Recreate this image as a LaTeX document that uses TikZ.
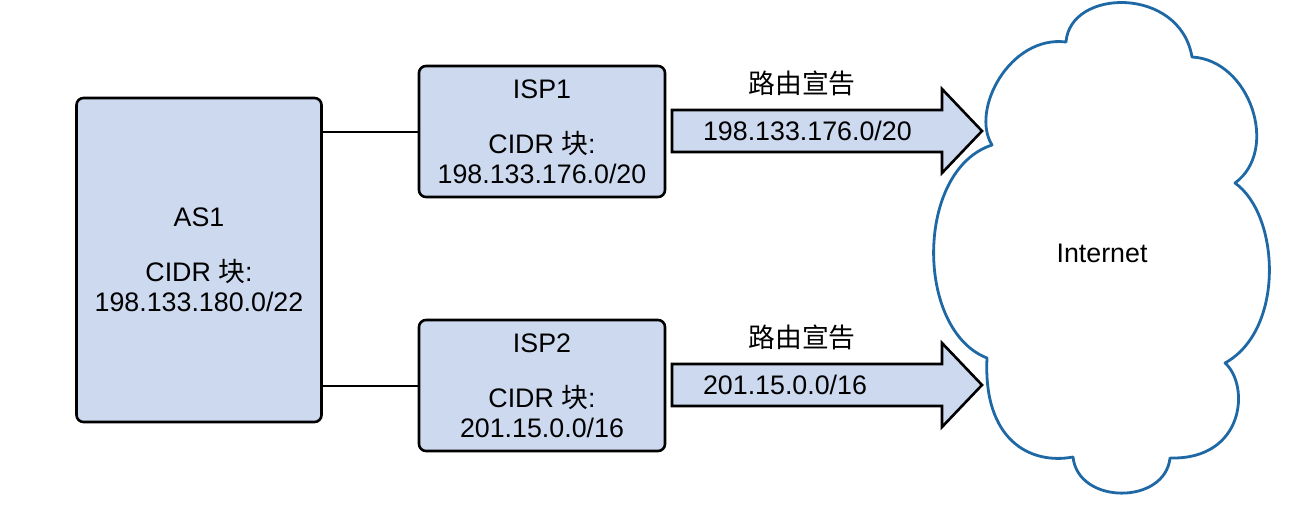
\documentclass[tikz,border=0pt]{standalone}
\usepackage{fontspec}
\setmainfont{Liberation Sans}
\newfontfamily\cjk{Noto Sans CJK SC}
\usetikzlibrary{positioning,calc}
\definecolor{boxfill}{RGB}{205,217,238}
\definecolor{cloudblue}{RGB}{30,105,165}
\tikzset{
  netbox/.style={draw=black, line width=1.3pt, rounded corners=3.5pt, fill=boxfill, align=center},
  link/.style={line width=1pt},
  advarrow/.style={draw=black, line width=1.3pt, fill=boxfill, line join=miter},
  cloudline/.style={draw=cloudblue, line width=1.4pt, fill=white, line join=round}
}
\begin{document}
\begin{tikzpicture}[x=0.5pt, y=-0.5pt, every node/.style={font=\fontsize{13.4}{15}\selectfont}]
  \useasboundingbox (0,0) rectangle (1312,514);
  % the Internet cloud
  \draw[cloudline] (992,145) .. controls (970,110) and (1010,35) .. (1066,42)
    .. controls (1070,-12) and (1180,-14) .. (1192,57)
    .. controls (1250,60) and (1280,150) .. (1235,183)
    .. controls (1280,215) and (1285,330) .. (1225,363)
    .. controls (1250,385) and (1245,460) .. (1170,458)
    .. controls (1165,505) and (1078,505) .. (1073,457)
    .. controls (1030,465) and (983,440) .. (987,358)
    .. controls (915,330) and (915,170) .. cycle;
  \node (inet) at (1102,253) {Internet};
  % autonomous system and its two providers
  \node[netbox, minimum width=122.5pt, minimum height=162pt] (as1) at (199,260)
    {AS1\\[12.5pt]CIDR {\cjk 块}:\\198.133.180.0/22};
  \node[netbox, minimum width=123pt, minimum height=65.5pt] (isp1) at (542,131.5)
    {ISP1\\[12.5pt]CIDR {\cjk 块}:\\198.133.176.0/20};
  \node[netbox, minimum width=123pt, minimum height=65.5pt] (isp2) at (542,385.5)
    {ISP2\\[12.5pt]CIDR {\cjk 块}:\\201.15.0.0/16};
  \draw[link] (isp1.west) -- (isp1.west -| as1.east);
  \draw[link] (isp2.west) -- (isp2.west -| as1.east);
  % route advertisements
  \foreach \y/\n in {131/1, 385/2}{
    \draw[advarrow] (672,\y-21) -- (942,\y-21) -- (942,\y-42) -- (982,\y)
      -- (942,\y+42) -- (942,\y+21) -- (672,\y+21) -- cycle;
    \node (adv\n) at (802,\y-48) {\cjk 路由宣告};
  }
  \node[anchor=west] (pfx1) at (696,131) {198.133.176.0/20};
  \node[anchor=west] (pfx2) at (696,385) {201.15.0.0/16};
\end{tikzpicture}
\end{document}
